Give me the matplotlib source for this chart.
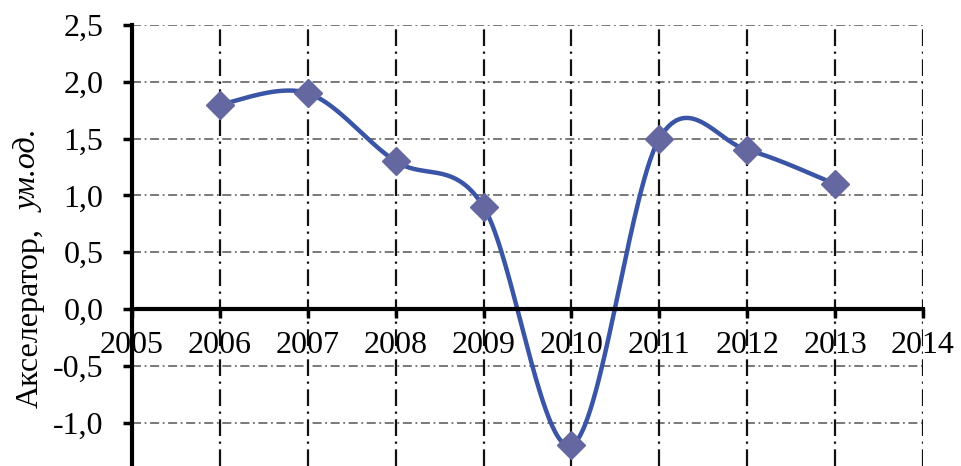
import numpy as np
import matplotlib
matplotlib.use("Agg")
from matplotlib import pyplot as plt

# data
years = [2006, 2007, 2008, 2009, 2010, 2011, 2012, 2013]
values = [1.8, 1.9, 1.3, 0.9, -1.2, 1.5, 1.4, 1.1]
x_ticks = list(range(2005, 2015))
y_ticks = [-1.0, -0.5, 0.0, 0.5, 1.0, 1.5, 2.0, 2.5]
y_label_main = "Акселератор,"
y_label_units = "ум.од."

LINE_COLOR = "#3A54A6"
MARKER_COLOR = "#6467A0"


def smooth_curve(xs, ys, n=60):
    # Excel-like smoothing: cubic Bezier with Catmull-Rom control points
    pts = np.column_stack((xs, ys)).astype(float)
    out = []
    for i in range(len(pts) - 1):
        p0 = pts[i - 1] if i > 0 else pts[i]
        p1 = pts[i]
        p2 = pts[i + 1]
        p3 = pts[i + 2] if i + 2 < len(pts) else pts[i + 1]
        c1 = p1 + (p2 - p0) / 6.0
        c2 = p2 - (p3 - p1) / 6.0
        t = np.linspace(0, 1, n)[:, None]
        seg = ((1 - t) ** 3) * p1 + 3 * ((1 - t) ** 2) * t * c1 \
            + 3 * (1 - t) * t ** 2 * c2 + t ** 3 * p2
        out.append(seg if i == 0 else seg[1:])
    seg = np.vstack(out)
    return seg[:, 0], seg[:, 1]


plt.rcParams['font.family'] = ['Liberation Serif', 'DejaVu Serif']
plt.rcParams['lines.scale_dashes'] = False

fig = plt.figure(figsize=(9.62, 4.66), dpi=100)
ax = fig.add_axes([132 / 962, 0.0, (923 - 132) / 962, (466 - 25) / 466])

sx, sy = smooth_curve(years, values)
ax.plot(sx, sy, color=LINE_COLOR, lw=3.2, zorder=3, solid_capstyle='round')
ax.plot(years, values, ls='none', marker='D', ms=14, color=MARKER_COLOR,
        mec=MARKER_COLOR, zorder=4)

ax.set_xlim(2005, 2014)
ax.set_ylim(-1.382, 2.5)
ax.set_xticks(x_ticks)
ax.set_yticks(y_ticks)
ax.set_yticklabels([f"{v:.1f}".replace(".", ",") for v in y_ticks])

# grid: black dash-dot verticals, grey dash-dot horizontals
ax.grid(False)
for xv in x_ticks[1:]:
    ax.axvline(xv, color="#111111", lw=1.6, ls=(0, (12, 4, 1.6, 4)), zorder=1)
for yv in y_ticks:
    if yv == 0.0:
        continue
    ax.axhline(yv, color="#555555", lw=1.1, ls=(0, (6.5, 2.6, 1.3, 2.6)), zorder=0.9)

for side in ('top', 'right'):
    ax.spines[side].set_visible(False)
ax.spines['bottom'].set_position(('data', 0))
ax.spines['left'].set_linewidth(3.0)
ax.spines['bottom'].set_linewidth(3.0)
ax.spines['left'].set_zorder(5)
ax.spines['bottom'].set_zorder(5)

ax.tick_params(axis='y', direction='out', length=6.5, width=2.5, pad=14,
               labelsize=23)
ax.tick_params(axis='x', direction='out', length=6.5, width=2.5, pad=9,
               labelsize=23)

fig.text(30 / 962, 1 - 408 / 466, y_label_main, rotation=90, fontsize=23,
         ha='center', va='bottom')
fig.text(30 / 962, 1 - 130 / 466, y_label_units, rotation=90, fontsize=23,
         style='italic', ha='center', va='top')

fig.savefig("out.png", dpi=100)
